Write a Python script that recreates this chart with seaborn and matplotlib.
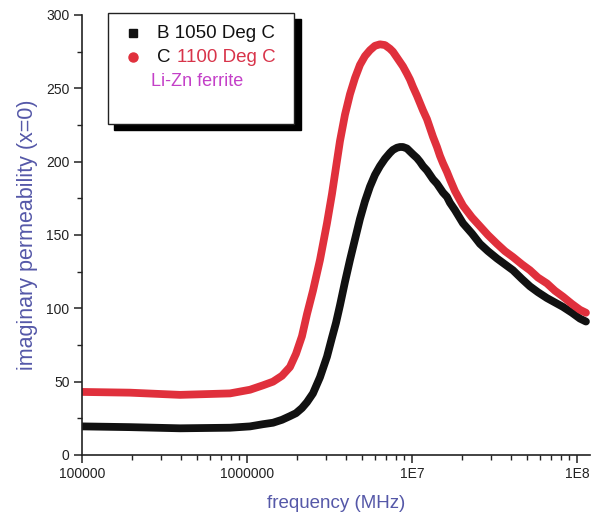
import numpy as np
import pandas as pd
import matplotlib
matplotlib.use("Agg")
import matplotlib.pyplot as plt
import seaborn as sns
from matplotlib.patches import Rectangle
from matplotlib.lines import Line2D

# ---------------- data ----------------
freq = [1.0e5, 1.95e5, 3.93e5, 7.89e5, 1.043e6, 1.250e6, 1.438e6, 1.630e6, 1.822e6,
        1.982e6, 2.154e6, 2.310e6, 2.512e6, 2.770e6, 3.054e6, 3.275e6, 3.462e6,
        3.661e6, 3.926e6, 4.210e6, 4.513e6, 4.840e6, 5.190e6, 5.565e6, 5.967e6,
        6.398e6, 6.861e6, 7.356e6, 7.669e6, 8.111e6, 8.458e6, 8.819e6, 9.326e6,
        9.725e6, 1.014e7, 1.072e7, 1.118e7, 1.166e7, 1.233e7, 1.286e7, 1.341e7,
        1.418e7, 1.478e7, 1.541e7, 1.630e7, 1.699e7, 1.822e7, 2.038e7, 2.310e7,
        2.583e7, 2.888e7, 3.275e7, 3.661e7, 4.093e7, 4.642e7, 5.190e7, 5.802e7,
        6.579e7, 7.356e7, 8.224e7, 9.326e7, 1.043e8, 1.134e8]

perm_b = [19.5, 19.0, 18.2, 18.6, 19.5, 21.0, 22.0, 24.0, 26.5,
          28.5, 32.0, 36.0, 42.0, 53.0, 67.0, 80.0, 90.0,
          102.0, 118.0, 133.0, 147.0, 161.0, 173.0, 183.0, 191.0,
          197.0, 202.0, 206.0, 208.0, 209.5, 210.0, 210.0, 209.0,
          207.0, 205.0, 202.5, 200.0, 197.0, 194.0, 191.0, 188.0,
          185.0, 182.0, 179.0, 176.0, 172.0, 167.0, 158.0, 151.0,
          144.0, 139.0, 134.0, 130.0, 126.0, 120.0, 115.0, 111.0,
          107.0, 104.0, 101.0, 97.0, 93.0, 91.0]

perm_c = [43.0, 42.5, 41.0, 42.0, 44.5, 47.5, 50.0, 54.0, 60.0,
          69.0, 81.0, 96.0, 112.0, 133.0, 158.0, 178.0, 196.0,
          214.0, 232.0, 246.0, 257.0, 266.0, 272.0, 276.0, 279.0,
          280.0, 279.5, 277.0, 275.0, 271.0, 268.0, 265.0, 260.0,
          256.0, 251.0, 245.0, 240.0, 235.0, 229.0, 223.0, 217.0,
          210.0, 204.0, 199.0, 193.0, 188.0, 180.0, 170.0, 162.0,
          156.0, 150.0, 144.0, 139.0, 135.0, 130.0, 126.0, 121.0,
          117.0, 112.0, 108.0, 103.0, 99.0, 97.0]

series_names = ["B 1050 Deg C", "C 1100 Deg C"]
x_ticks = [1e5, 1e6, 1e7, 1e8]
x_tick_labels = ["100000", "1000000", "1E7", "1E8"]
y_ticks = [0, 50, 100, 150, 200, 250, 300]

df = pd.concat([
    pd.DataFrame({"freq": freq, "perm": perm_b, "series": series_names[0]}),
    pd.DataFrame({"freq": freq, "perm": perm_c, "series": series_names[1]}),
])

# ---------------- style ----------------
sns.set_style("ticks")
plt.rcParams["font.family"] = ["Liberation Sans", "DejaVu Sans"]

W, H = 592, 525
fig = plt.figure(figsize=(W / 100, H / 100), dpi=100)
ax = fig.add_axes([82 / W, 1 - 455 / H, (590 - 82) / W, (455 - 15) / H])

BLACK = "#111111"
RED = "#e0303c"
LABEL_BLUE = "#5558a8"

sns.lineplot(data=df, x="freq", y="perm", hue="series",
             palette={series_names[0]: BLACK, series_names[1]: RED},
             linewidth=5.6, legend=False, sort=False, ax=ax,
             solid_capstyle="round", solid_joinstyle="round")

ax.set_xscale("log")
ax.set_xlim(1e5, 1.2e8)
ax.set_ylim(0, 300)
ax.set_xticks(x_ticks)
ax.set_xticklabels(x_tick_labels)
ax.set_yticks(y_ticks)
ax.yaxis.set_minor_locator(matplotlib.ticker.MultipleLocator(25))
ax.xaxis.set_minor_locator(matplotlib.ticker.LogLocator(base=10, subs=np.arange(2, 10)))
ax.xaxis.set_minor_formatter(matplotlib.ticker.NullFormatter())

ax.tick_params(axis="both", which="major", direction="out", length=6, width=1.1,
               labelsize=10, colors="#222222", pad=3)
ax.tick_params(axis="both", which="minor", direction="out", length=3.5, width=1.0,
               colors="#222222")
for s in ["top", "right"]:
    ax.spines[s].set_visible(False)
for s in ["left", "bottom"]:
    ax.spines[s].set_linewidth(1.2)
    ax.spines[s].set_color("#222222")

ax.set_xlabel("frequency (MHz)", fontsize=13.5, color=LABEL_BLUE, labelpad=10)
ax.set_ylabel("imaginary permeability (x=0)", fontsize=15.5, color=LABEL_BLUE, labelpad=6)

# ---------------- legend box (Origin-style with shadow) ----------------
def P(x, y):
    return (x / W, 1 - y / H)

shadow = Rectangle(P(114, 130), 187 / W, 111 / H, transform=fig.transFigure,
                   facecolor="black", edgecolor="black", zorder=5)
box = Rectangle(P(108, 124), 186 / W, 111 / H, transform=fig.transFigure,
                facecolor="white", edgecolor="#222222", linewidth=1.0, zorder=6)
fig.add_artist(shadow)
fig.add_artist(box)

fig.add_artist(Line2D([133 / W], [1 - 33 / H], transform=fig.transFigure,
                      marker="s", markersize=6, color=BLACK, linestyle="none", zorder=7))
fig.add_artist(Line2D([133 / W], [1 - 57 / H], transform=fig.transFigure,
                      marker="o", markersize=6.5, color=RED, linestyle="none", zorder=7))

fig.text(*P(157, 34), series_names[0], fontsize=13.5, color="#111111",
         va="center", ha="left", zorder=8)
fig.text(*P(157, 58), series_names[1].split(" ", 1)[0], fontsize=13.5, color="#111111",
         va="center", ha="left", zorder=8)
fig.text(*P(177, 58), series_names[1].split(" ", 1)[1], fontsize=13.5, color="#d8344a",
         va="center", ha="left", zorder=8)
fig.text(*P(151, 81), "Li-Zn ferrite", fontsize=13, color="#c440c8",
         va="center", ha="left", zorder=8)

fig.savefig("out.png", dpi=100)
